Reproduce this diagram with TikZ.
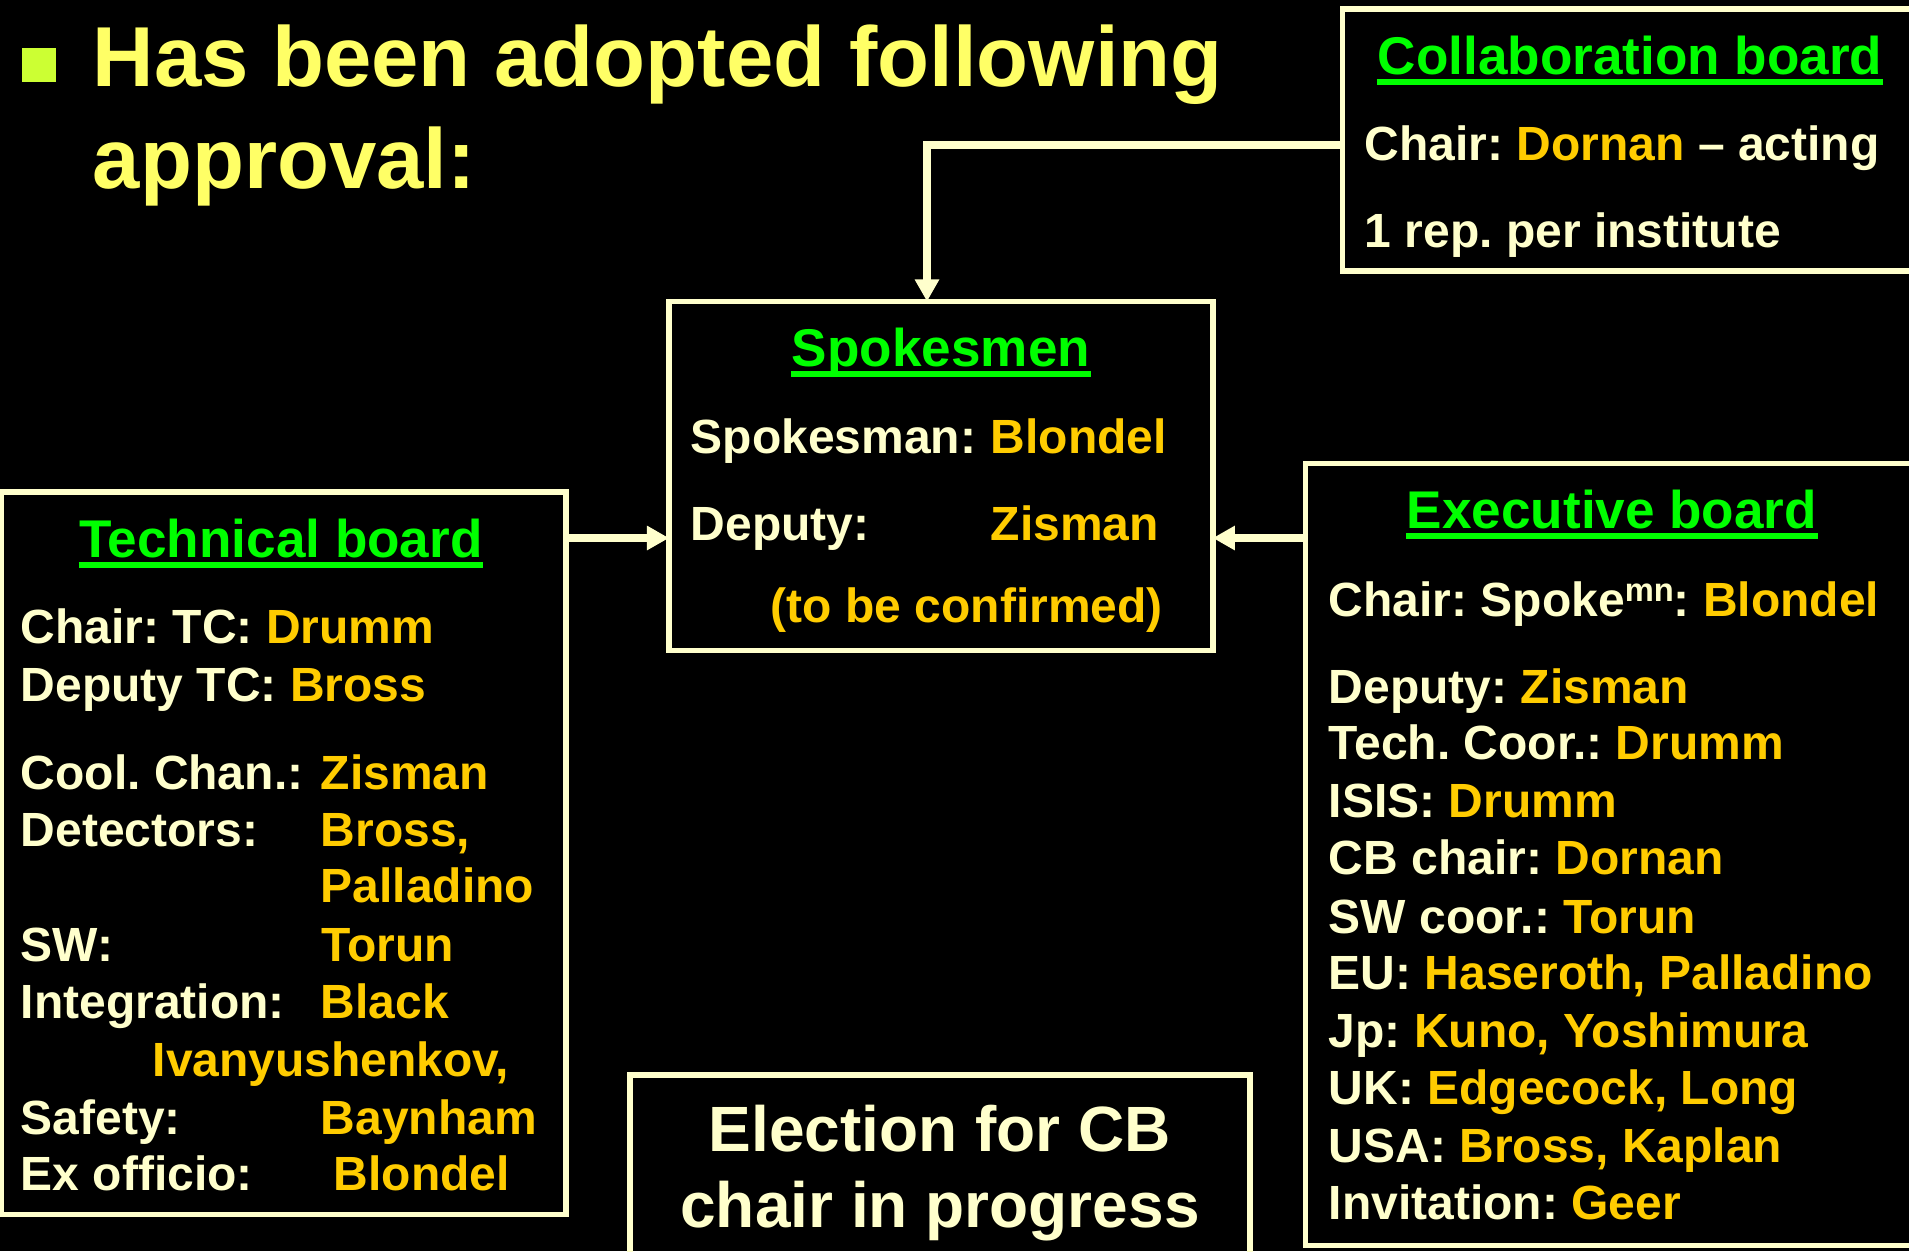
\documentclass[tikz,border=0pt]{standalone}
\usepackage{fontspec}
\setmainfont{Liberation Sans}
\usetikzlibrary{arrows.meta}
\frenchspacing

\definecolor{cream}{HTML}{FFFFCC}
\definecolor{titleyellow}{HTML}{FFFF66}
\definecolor{bulletgreen}{HTML}{CCFF33}
\definecolor{headgreen}{HTML}{00FF00}
\definecolor{namegold}{HTML}{FFCC00}
\newcommand{\who}[1]{\textcolor{namegold}{#1}}

\tikzset{
  board/.style={draw=cream, line width=1.55pt, anchor=north west, inner sep=0pt, outer sep=0pt},
  heading/.style={text=headgreen, font=\fontsize{15.1}{18}\selectfont\bfseries, inner sep=0pt, anchor=base},
  uline/.style={headgreen, line width=1.55pt},
  body/.style={text=cream, font=\fontsize{13.65}{16}\selectfont\bfseries, inner sep=0pt, anchor=base west},
  titletext/.style={text=titleyellow, font=\fontsize{24.2}{29}\selectfont\bfseries, inner sep=0pt, anchor=base west},
  notice/.style={text=cream, font=\fontsize{18.2}{22}\selectfont\bfseries, inner sep=0pt, anchor=base},
  link/.style={cream, line width=2pt, -{Triangle[width=6.6pt,length=6.3pt]}},
}

\begin{document}
\begin{tikzpicture}[x=0.01cm, y=-0.01cm]

\useasboundingbox (0,0) rectangle (1909,1251);
\fill[black] (0,0) rectangle (1909,1251);
\clip (0,0) rectangle (1909,1251);

\node[fill=bulletgreen, minimum size=0.34cm, inner sep=0pt, outer sep=0pt, anchor=north west] (bullet) at (22,48) {};
\node[titletext] (title1) at (92,86) {Has been adopted following};
\node[titletext] (title2) at (92,188) {approval:};

% boxes
\node[board, minimum width=6cm, minimum height=2.62cm] (collab) at (1342.5,9) {};
\node[board, minimum width=5.435cm, minimum height=3.49cm] (spokes) at (669,301.5) {};
\node[board, minimum width=5.645cm, minimum height=7.22cm] (tech) at (1,492) {};
\node[board, minimum width=6.345cm, minimum height=7.815cm] (exec) at (1305.5,463.5) {};
\node[board, minimum width=6.195cm, minimum height=2.05cm] (elect) at (630,1075) {};

% collaboration board
\node[heading] (collabHead) at (1630,74) {Collaboration board};
\draw[uline] ([yshift=-0.08cm]collabHead.base west) -- ([yshift=-0.08cm]collabHead.base east);
\node[body] (collabChair) at (1364,160) {Chair: \who{Dornan} -- acting};
\node[body] (collabRep) at (1364,247) {1 rep. per institute};

% spokesmen
\node[heading] (spokesHead) at (941,366) {Spokesmen};
\draw[uline] ([yshift=-0.08cm]spokesHead.base west) -- ([yshift=-0.08cm]spokesHead.base east);
\node[body] (spokesL1) at (690,453) {Spokesman:};
\node[body] (spokesN1) at (990,453) {\who{Blondel}};
\node[body] (spokesL2) at (690,540) {Deputy:};
\node[body] (spokesN2) at (990,540) {\who{Zisman}};
\node[body] (spokesN3) at (770,622) {\who{(to be confirmed)}};

% technical board
\node[heading] (techHead) at (281,557) {Technical board};
\draw[uline] ([yshift=-0.08cm]techHead.base west) -- ([yshift=-0.08cm]techHead.base east);
\node[body] (techChair) at (20,643) {Chair: TC: \who{Drumm}};
\node[body] (techDeputy) at (20,701) {Deputy TC: \who{Bross}};
\foreach \y/\lab/\nx/\nm [count=\i] in {789/{Cool. Chan.:}/320/Zisman, 846/{Detectors:}/320/{Bross,},
    902/{}/320/Palladino, 961/{SW:}/321/Torun, 1018/{Integration:}/320/Black,
    1076/{}/152/{Ivanyushenkov,}, 1134/{Safety:}/320/Baynham, 1190/{Ex officio:}/333/Blondel}
{
  \node[body] (techL\i) at (20,\y) {\lab};
  \node[body] (techN\i) at (\nx,\y) {\who{\nm}};
}

% executive board
\node[heading] (execHead) at (1612,528) {Executive board};
\draw[uline] ([yshift=-0.08cm]execHead.base west) -- ([yshift=-0.08cm]execHead.base east);
\node[body] (execChair) at (1328,616) {Chair: Spoke\raisebox{0.15cm}{\fontsize{9.3}{10}\selectfont mn}: \who{Blondel}};
\foreach \y/\txt [count=\i] in {703/{Deputy: \who{Zisman}}, 759/{Tech. Coor.: \who{Drumm}},
    817/{ISIS: \who{Drumm}}, 874/{CB chair: \who{Dornan}}, 933/{SW coor.: \who{Torun}},
    989/{EU: \who{Haseroth, Palladino}}, 1047/{Jp: \who{Kuno, Yoshimura}},
    1104/{UK: \who{Edgecock, Long}}, 1162/{USA: \who{Bross, Kaplan}}, 1219/{Invitation: \who{Geer}}}
{
  \node[body] (execL\i) at (1328,\y) {\txt};
}

% election
\node[notice] (elect1) at (940,1151) {Election for CB};
\node[notice] (elect2) at (940,1227) {chair in progress};

% links
\coordinate (bend) at (927,145);
\coordinate (armrow) at (0,538);
\draw[link] (collab.west |- bend) -| (spokes.north -| bend);
\draw[link] (tech.east |- armrow) -- (spokes.west |- armrow);
\draw[link] (exec.west |- armrow) -- (spokes.east |- armrow);

\end{tikzpicture}
\end{document}
